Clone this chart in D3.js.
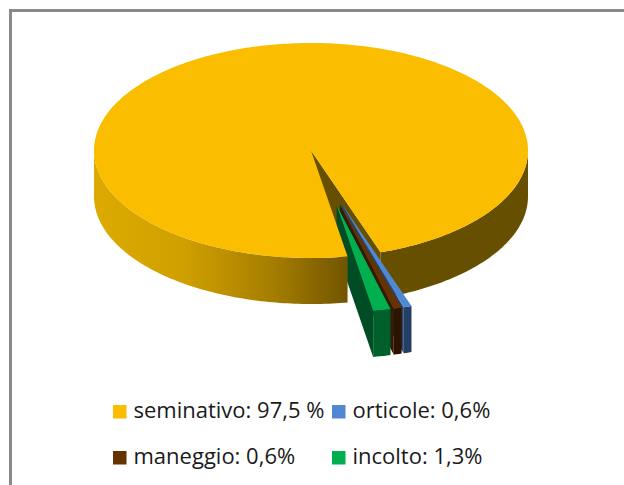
<!doctype html>
<html>
<head>
<meta charset="utf-8">
<title>Uso del suolo</title>
<script src="https://cdnjs.cloudflare.com/ajax/libs/d3/7.8.5/d3.min.js"></script>
<style>
html, body { margin: 0; padding: 0; background: #fff; }
svg { display: block; }
text { font-family: "Open Sans", sans-serif; font-size: 22px; fill: #1a1a1a; }
</style>
</head>
<body>
<div id="chart"></div>
<script>
var names = ["seminativo", "orticole", "maneggio", "incolto"];
var values = [97.5, 0.6, 0.6, 1.3];
var labels = ["seminativo: 97,5 %", "orticole: 0,6%", "maneggio: 0,6%", "incolto: 1,3%"];
var colors = ["#fbbd00", "#5088d6", "#663300", "#00b050"];
var rimColors = ["#665000", "#243f63", "#2c1500", "#00602c"];
var wallColors = ["#665000", "#2a4468", "#331a00", "#004d25"];

var width = 624, height = 485;
var depth = 46;
var explode = 0.52;
var rad = Math.PI / 180;

var svg = d3.select("#chart").append("svg")
	.attr("width", width)
	.attr("height", height);

// frame, only top and left are drawn
svg.append("rect").attr("x", 9).attr("y", 9).attr("width", width - 9).attr("height", 3).attr("fill", "#8a8a8a");
svg.append("rect").attr("x", 9).attr("y", 9).attr("width", 3).attr("height", height - 9).attr("fill", "#8a8a8a");

var x = d3.scaleLinear().domain([-1, 1]).range([94, 528]);
var y = d3.scaleLinear().domain([-1, 1]).range([43, 258]);

var pie = d3.pie().sort(null).startAngle(170.3 * rad).endAngle((170.3 + 360) * rad);
var slices = pie(values);

var defs = svg.append("defs");
var grad = defs.append("linearGradient")
	.attr("id", "rimLeft")
	.attr("gradientUnits", "userSpaceOnUse")
	.attr("x1", 94).attr("x2", 348).attr("y1", 0).attr("y2", 0);
grad.append("stop").attr("offset", 0).attr("stop-color", "#dcaa00");
grad.append("stop").attr("offset", 0.35).attr("stop-color", "#d0a000");
grad.append("stop").attr("offset", 0.7).attr("stop-color", "#a67e00");
grad.append("stop").attr("offset", 1).attr("stop-color", "#715500");

var line = d3.line();

function pt(a, r, off, drop) {
	return [x(off[0] + r * Math.sin(a)), y(off[1] - r * Math.cos(a)) + drop];
}

function arcPts(a0, a1, off, drop) {
	var n = Math.max(2, Math.ceil((a1 - a0) / rad));
	return d3.range(n + 1).map(function (i) {
		return pt(a0 + (a1 - a0) * i / n, 1, off, drop);
	});
}

function drawTop(a0, a1, off, fill) {
	var pts = [pt(0, 0, off, 0)].concat(arcPts(a0, a1, off, 0));
	svg.append("path").attr("d", line(pts) + "Z").attr("fill", fill);
}

function drawRim(a0, a1, off, fill) {
	var pts = arcPts(a0, a1, off, 0).concat(arcPts(a0, a1, off, depth).reverse());
	svg.append("path").attr("d", line(pts) + "Z").attr("fill", fill);
}

function drawWall(a, off, fill) {
	var pts = [pt(0, 0, off, 0), pt(a, 1, off, 0), pt(a, 1, off, depth), pt(0, 0, off, depth)];
	svg.append("path").attr("d", line(pts) + "Z").attr("fill", fill);
}

var main = slices[0];
var none = [0, 0];
var groupMid = (main.endAngle + main.startAngle + 2 * Math.PI) / 2;

// right part of the main rim and the cut face sit behind the small slices
drawRim(450 * rad, main.endAngle, none, rimColors[0]);
drawWall(main.endAngle, none, wallColors[0]);

// exploded slices, back to front
slices.slice(1).forEach(function (s) {
	var mid = (s.startAngle + s.endAngle) / 2;
	var off = [explode * (Math.sin(mid) + Math.sin(groupMid)) / 2, -explode * (Math.cos(mid) + Math.cos(groupMid)) / 2];
	drawWall(s.endAngle, off, wallColors[s.index]);
	drawRim(s.startAngle, s.endAngle, off, rimColors[s.index]);
	drawTop(s.startAngle, s.endAngle, off, colors[s.index]);
});

// left rim and top of the main slice go over the green wall
drawRim(main.startAngle, 270 * rad, none, "url(#rimLeft)");
drawTop(main.startAngle, main.endAngle, none, colors[0]);

// legend
var legendX = d3.scaleOrdinal().domain(names).range([113, 332, 113, 332]);
var legendY = d3.scaleOrdinal().domain(names).range([405, 405, 451, 451]);

var legend = svg.selectAll(".legend")
	.data(names)
	.enter().append("g")
	.attr("class", "legend")
	.attr("transform", function (d) { return "translate(" + legendX(d) + "," + legendY(d) + ")"; });

legend.append("rect")
	.attr("width", 13.5)
	.attr("height", 13.5)
	.attr("fill", function (d, i) { return colors[i]; });

legend.append("text")
	.attr("x", 20.5)
	.attr("y", 13)
	.text(function (d, i) { return labels[i]; });
</script>
</body>
</html>
